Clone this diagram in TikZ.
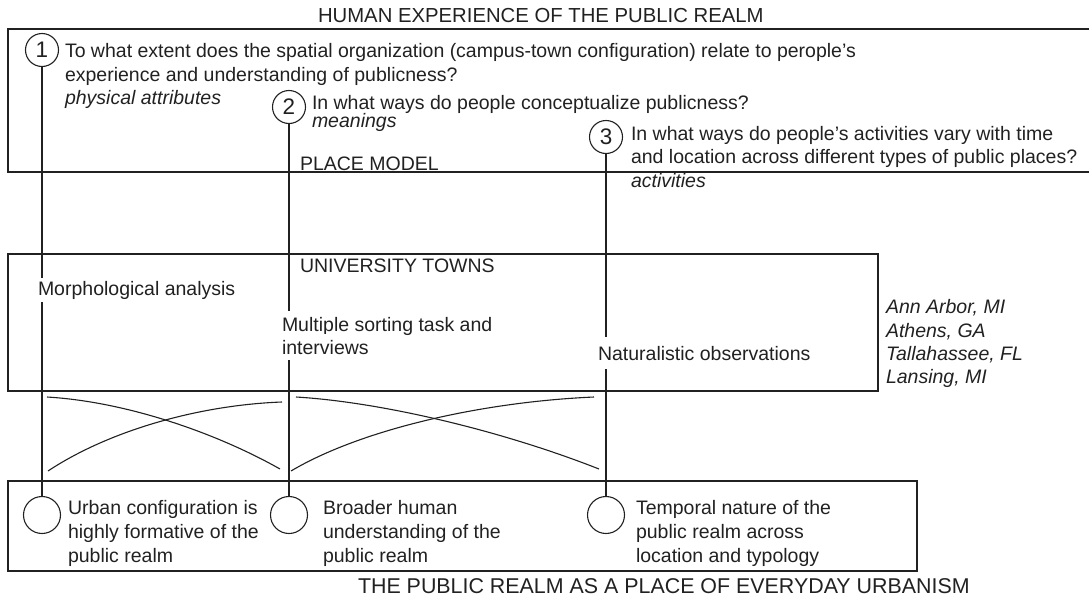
\documentclass[tikz,border=0pt]{standalone}
\usepackage{fontspec}
\setmainfont{Liberation Sans}
\definecolor{ink}{gray}{0.13}
\begin{document}
\begin{tikzpicture}[x=1pt,y=-1pt,line width=1.1pt,draw=ink,
  every node/.style={inner sep=0pt,outer sep=0pt,text=ink},
  body/.style={font=\fontsize{19.5}{24}\selectfont,anchor=base west},
  bodyit/.style={body,font=\fontsize{19.5}{24}\selectfont\itshape},
  ttl/.style={font=\fontsize{21}{24}\selectfont,anchor=base west},
  mask/.style={body,fill=white,inner xsep=2pt},
  numc/.style={draw=ink,circle,minimum size=33pt,font=\fontsize{22.5}{24}\selectfont},
  endc/.style={draw=ink,circle,minimum size=37pt,fill=white},
  box/.style={draw=ink,rectangle}]
\useasboundingbox (0,0) rectangle (1089,597);

% titles
\node[ttl,font=\fontsize{20.3}{24}\selectfont] (t1) at (318,23) {HUMAN EXPERIENCE OF THE PUBLIC REALM};
\node[ttl,font=\fontsize{21.4}{24}\selectfont] (t2) at (358,593) {THE PUBLIC REALM AS A PLACE OF EVERYDAY URBANISM};

% top (open) box
\coordinate (tbTR) at (1089,29);
\coordinate (tbTL) at (8,29);
\coordinate (tbBL) at (8,172);
\coordinate (tbBR) at (1089,172);
\draw (tbTR) -- (tbTL) -- (tbBL) -- (tbBR);

% middle and bottom boxes
\node[box,anchor=north west,minimum width=870pt,minimum height=137pt] (mid) at (8,254) {};
\node[box,anchor=north west,minimum width=909pt,minimum height=90pt] (bot) at (8,481) {};

% numbered circles
\node[numc] (n1) at (42,50) {1};
\node[numc] (n2) at (289,107) {2};
\node[numc] (n3) at (606,137) {3};

% end circles
\node[endc] (e1) at (42,515) {};
\node[endc] (e2) at (289,515) {};
\node[endc] (e3) at (606,515) {};

% vertical connectors
\draw (n1.south) -- (e1.north);
\draw (n2.south) -- (e2.north);
\draw (n3.south) -- (e3.north);

% crossing curves
\coordinate (a1) at (47,397);  \coordinate (a2) at (280,469);
\coordinate (b1) at (48,471);  \coordinate (b2) at (282,402);
\coordinate (c1) at (296,397); \coordinate (c2) at (599,469);
\coordinate (d1) at (291,471); \coordinate (d2) at (594,397);
\draw (a1) .. controls (130,402) and (220,435) .. (a2);
\draw (b1) .. controls (110,430) and (200,405) .. (b2);
\draw (c1) .. controls (380,402) and (500,430) .. (c2);
\draw (d1) .. controls (360,430) and (480,402) .. (d2);

% question texts
\node[body] (q1a) at (65,57) {To what extent does the spatial organization (campus-town configuration) relate to perople’s};
\node[body] (q1b) at (65,81) {experience and understanding of publicness?};
\node[bodyit] (q1c) at (65,104) {physical attributes};
\node[body] (q2a) at (312,109) {In what ways do people conceptualize publicness?};
\node[bodyit] (q2b) at (312,127) {meanings};
\node[body] (q3a) at (631,140) {In what ways do people’s activities vary with time};
\node[body] (q3b) at (631,163) {and location across different types of public places?};
\node[bodyit] (q3c) at (631,187) {activities};
\node[body] (pm) at (300,170) {PLACE MODEL};

% middle box texts
\node[body] (ut) at (300,272) {UNIVERSITY TOWNS};
\node[mask,inner ysep=3pt] (m1) at (36,295) {Morphological analysis};
\node[mask,inner ysep=5.5pt] (m2a) at (280,331) {Multiple sorting task and};
\node[mask,inner ysep=5.5pt] (m2b) at (280,354) {interviews};
\node[mask,inner ysep=8.5pt] (m3) at (596,360) {Naturalistic observations};

% cities
\node[bodyit] (city1) at (886,313) {Ann Arbor, MI};
\node[bodyit] (city2) at (886,337) {Athens, GA};
\node[bodyit] (city3) at (886,360) {Tallahassee, FL};
\node[bodyit] (city4) at (886,383) {Lansing, MI};

% bottom texts
\node[body] (r1a) at (68,514) {Urban configuration is};
\node[body] (r1b) at (68,538) {highly formative of the};
\node[body] (r1c) at (68,562) {public realm};
\node[body] (r2a) at (323,514) {Broader human};
\node[body] (r2b) at (323,538) {understanding of the};
\node[body] (r2c) at (323,562) {public realm};
\node[body] (r3a) at (636,514) {Temporal nature of the};
\node[body] (r3b) at (636,538) {public realm across};
\node[body] (r3c) at (636,562) {location and typology};
\end{tikzpicture}
\end{document}
